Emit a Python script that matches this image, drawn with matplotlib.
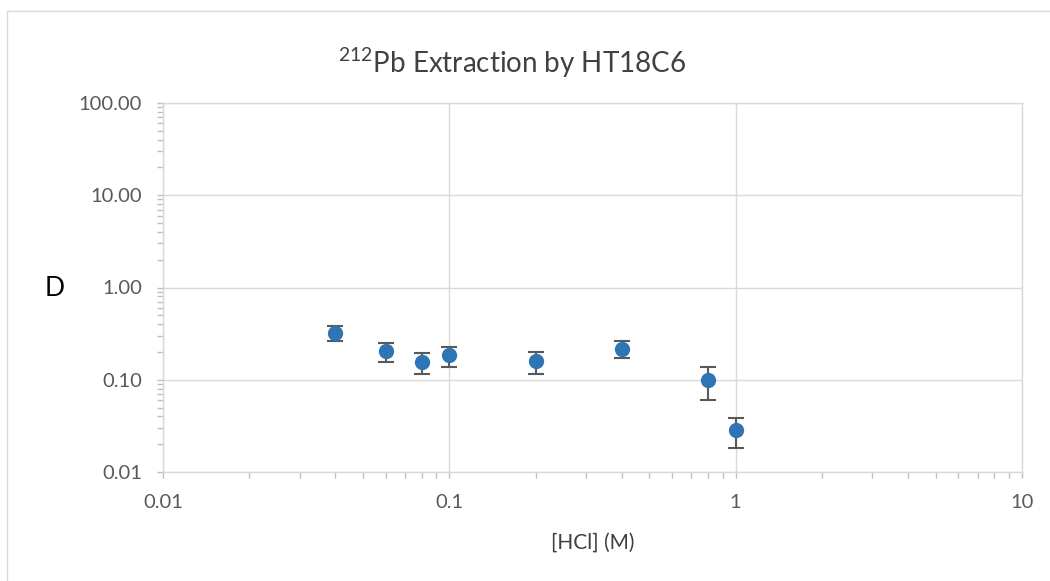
"""
212Pb extraction by HT18C6: distribution ratio D vs [HCl], log-log with error bars.
"""

import matplotlib
matplotlib.use("Agg")
import matplotlib.pyplot as plt
from matplotlib.patches import Rectangle
from matplotlib.ticker import LogLocator, FuncFormatter, NullFormatter


# -------------------------------------------------------------------
# Data
# -------------------------------------------------------------------
hcl_conc = [0.04, 0.06, 0.08, 0.1, 0.2, 0.4, 0.8, 1.0]
d_values = [0.322, 0.203, 0.156, 0.184, 0.158, 0.217, 0.100, 0.0286]
d_errors = [0.060, 0.046, 0.041, 0.045, 0.043, 0.047, 0.039, 0.0102]

x_ticks = [0.01, 0.1, 1, 10]
y_ticks = [0.01, 0.1, 1, 10, 100]


# -------------------------------------------------------------------
# Style
# -------------------------------------------------------------------
plt.rcParams["font.family"] = ["Lato", "DejaVu Sans"]
plt.rcParams["mathtext.default"] = "regular"

GRID = "#d9d9d9"
TICK_TXT = "#595959"
POINT = "#2e75b6"
ERR = "#595959"


def main() -> None:
    fig = plt.figure(figsize=(10.5, 5.81), dpi=100)
    ax = fig.add_axes([163 / 1050, 1 - 472 / 581, (1022 - 163) / 1050, (472 - 103) / 581])

    # outer chart border
    fig.patches.append(Rectangle((7 / 1050, -0.05), 1.1, 0.05 + 1 - 11 / 581,
                                 transform=fig.transFigure, fill=False,
                                 edgecolor=GRID, linewidth=1.0))

    ax.errorbar(hcl_conc, d_values, yerr=d_errors, fmt="o", color=POINT,
                markersize=10, ecolor=ERR, elinewidth=1.5, capsize=6,
                capthick=1.5, zorder=3)

    ax.set_xscale("log")
    ax.set_yscale("log")
    ax.set_xlim(0.01, 10)
    ax.set_ylim(0.01, 100)

    ax.set_xticks(x_ticks)
    ax.set_yticks(y_ticks)
    ax.xaxis.set_minor_locator(LogLocator(base=10, subs=range(2, 10)))
    ax.yaxis.set_minor_locator(LogLocator(base=10, subs=range(2, 10)))
    ax.xaxis.set_major_formatter(FuncFormatter(lambda v, p: f"{v:g}"))
    ax.yaxis.set_major_formatter(FuncFormatter(lambda v, p: f"{v:.2f}"))
    ax.xaxis.set_minor_formatter(NullFormatter())
    ax.yaxis.set_minor_formatter(NullFormatter())

    ax.grid(True, which="major", color=GRID, linewidth=1.0)
    ax.set_axisbelow(True)
    for side in ax.spines.values():
        side.set_color(GRID)
        side.set_linewidth(1.0)

    ax.tick_params(which="both", direction="out", color="#bfbfbf", length=4,
                   width=1.0, labelsize=14.5, labelcolor=TICK_TXT)
    ax.tick_params(axis="x", which="major", pad=12)
    ax.tick_params(axis="y", which="major", pad=11)

    fig.text(512 / 1050, 1 - 63 / 581, "$^{212}$Pb Extraction by HT18C6",
             ha="center", va="center", fontsize=20, color="#404040")
    fig.text(593 / 1050, 1 - 543 / 581, "[HCl] (M)", ha="center", va="center",
             fontsize=15, color="#404040")
    fig.text(55 / 1050, 1 - 288 / 581, "D", ha="center", va="center",
             fontsize=19, color="black")

    fig.savefig("out.png", dpi=100)
    plt.close(fig)


if __name__ == "__main__":
    main()
